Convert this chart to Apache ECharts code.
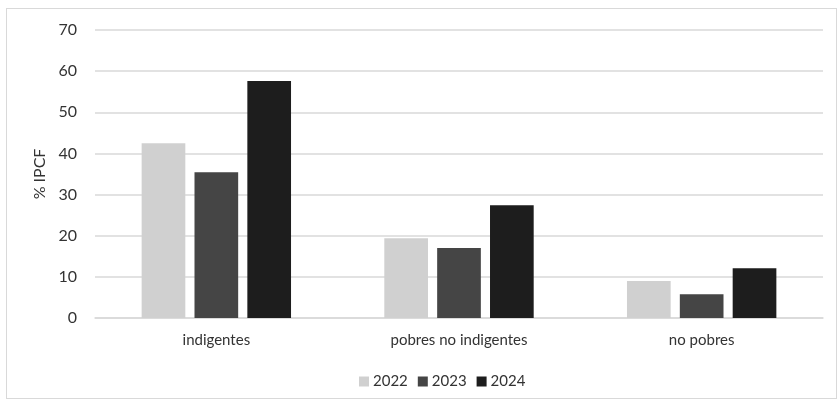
<!DOCTYPE html>
<html>
<head>
<meta charset="utf-8">
<script src="https://cdn.jsdelivr.net/npm/echarts@6/dist/echarts.min.js"></script>
<style>
  html, body { margin: 0; padding: 0; background: #fff; }
  #chart { width: 838px; height: 400px; }
  .frame { position: absolute; left: 6px; top: 8px; width: 831px; height: 391px; border: 1px solid #d9d9d9; box-sizing: border-box; pointer-events: none; }
</style>
</head>
<body>
<div id="chart"></div>
<div class="frame"></div>
<script>
// categorías y valores (% IPCF) por año
const categories = ['indigentes', 'pobres no indigentes', 'no pobres']
const years = ['2022', '2023', '2024']
const v2022 = [42.5, 19.4, 9.0]
const v2023 = [35.4, 17.0, 5.8]
const v2024 = [57.6, 27.4, 12.1]
const yTicks = [0, 10, 20, 30, 40, 50, 60, 70]

const COLORS = ['#d0d0d0', '#454545', '#1d1d1d']
const FONT = 'Lato'

const chart = echarts.init(document.getElementById('chart'))
chart.setOption({
  animation: false,
  textStyle: { fontFamily: FONT },
  legend: {
    top: 369,
    left: 354,
    itemWidth: 10,
    itemHeight: 10,
    itemGap: 10,
    icon: 'rect',
    textStyle: { color: '#333', fontSize: 15, fontFamily: FONT, padding: [0, 0, 0, -1] },
    data: years
  },
  grid: { left: 95, right: 15, top: 30, bottom: 82, containLabel: false },
  xAxis: {
    type: 'category',
    data: categories,
    axisLine: { lineStyle: { color: '#d9d9d9', width: 1.5 } },
    axisTick: { show: false },
    axisLabel: { color: '#333', fontSize: 15, fontFamily: FONT, margin: 15 }
  },
  yAxis: {
    type: 'value',
    min: yTicks[0],
    max: yTicks[yTicks.length - 1],
    interval: 10,
    name: '% IPCF',
    nameLocation: 'middle',
    nameGap: 43,
    nameRotate: 90,
    nameTextStyle: { color: '#333', fontSize: 16, fontFamily: FONT },
    axisLine: { show: false },
    axisTick: { show: false },
    axisLabel: { color: '#333', fontSize: 16, fontFamily: FONT, margin: 18 },
    splitLine: { lineStyle: { color: '#d9d9d9', width: 1.5 } }
  },
  series: [v2022, v2023, v2024].map((vals, i) => ({
    name: years[i],
    type: 'bar',
    data: vals,
    barWidth: '18%',
    barGap: '21%',
    itemStyle: { color: COLORS[i] }
  }))
})
</script>
</body>
</html>
